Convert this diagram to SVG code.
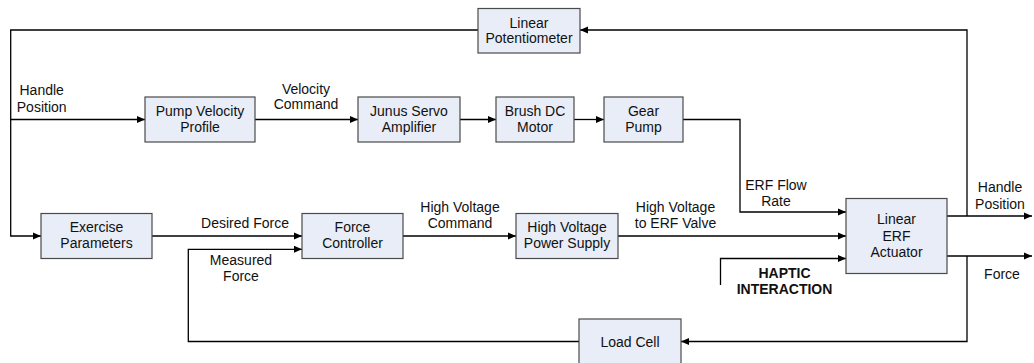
<svg xmlns="http://www.w3.org/2000/svg" width="1034" height="363" viewBox="0 0 1034 363">
<style>
.box{fill:#e8edf7;stroke:#4a4a4a;stroke-width:1.2}
.t{font-family:"Liberation Sans",Arial,sans-serif;font-size:14px;fill:#111;text-anchor:middle}
.b{font-weight:bold}
.c{fill:none;stroke:#000;stroke-width:1.3}
</style>
<defs>
<marker id="ah" viewBox="0 0 8 8" refX="8" refY="4" markerWidth="8" markerHeight="8" markerUnits="userSpaceOnUse" orient="auto">
<path d="M0,0.5 L8,4 L0,7.5 z" fill="#000"/>
</marker>
</defs>
<rect width="1034" height="363" fill="#fff"/>
<g id="connectors">
<path class="c" d="M967,216 V30 H580" marker-end="url(#ah)"/>
<path class="c" d="M478,30 H10.7 V236 H41" marker-end="url(#ah)"/>
<path class="c" d="M10.7,119.5 H145" marker-end="url(#ah)"/>
<path class="c" d="M255,119.5 H358" marker-end="url(#ah)"/>
<path class="c" d="M460,119.5 H496" marker-end="url(#ah)"/>
<path class="c" d="M574,119.5 H604" marker-end="url(#ah)"/>
<path class="c" d="M683,119.5 H740 V212 H846" marker-end="url(#ah)"/>
<path class="c" d="M152,236 H302" marker-end="url(#ah)"/>
<path class="c" d="M403,236 H516" marker-end="url(#ah)"/>
<path class="c" d="M618,236 H846" marker-end="url(#ah)"/>
<path class="c" d="M720.5,285 V258.5 H846" marker-end="url(#ah)"/>
<path class="c" d="M947,216 H1032" marker-end="url(#ah)"/>
<path class="c" d="M947,256 H1032" marker-end="url(#ah)"/>
<path class="c" d="M967,256 V341.5 H681" marker-end="url(#ah)"/>
<path class="c" d="M579,341.5 H188.3 V249.3 H302" marker-end="url(#ah)"/>
</g>
<g id="linear-potentiometer"><rect class="box" x="478" y="8.5" width="102" height="44.5"/><text class="t" x="529" y="27.5">Linear</text><text class="t" x="529" y="43">Potentiometer</text></g>
<g id="pump-velocity-profile"><rect class="box" x="145" y="97" width="110" height="45"/><text class="t" x="200" y="115.5">Pump Velocity</text><text class="t" x="200" y="131.5">Profile</text></g>
<g id="junus-servo-amplifier"><rect class="box" x="358" y="97" width="102" height="45"/><text class="t" x="409" y="115.5">Junus Servo</text><text class="t" x="409" y="131.5">Amplifier</text></g>
<g id="brush-dc-motor"><rect class="box" x="496" y="97" width="78" height="45"/><text class="t" x="535" y="115.5">Brush DC</text><text class="t" x="535" y="131.5">Motor</text></g>
<g id="gear-pump"><rect class="box" x="604" y="97" width="79" height="45"/><text class="t" x="643.5" y="115.5">Gear</text><text class="t" x="643.5" y="131.5">Pump</text></g>
<g id="exercise-parameters"><rect class="box" x="41" y="213.5" width="111" height="45"/><text class="t" x="96.5" y="231.5">Exercise</text><text class="t" x="96.5" y="248">Parameters</text></g>
<g id="force-controller"><rect class="box" x="302" y="213.5" width="101" height="45"/><text class="t" x="352.5" y="231.5">Force</text><text class="t" x="352.5" y="248">Controller</text></g>
<g id="high-voltage-power-supply"><rect class="box" x="516" y="213.5" width="102" height="45"/><text class="t" x="567" y="231.5">High Voltage</text><text class="t" x="567" y="248">Power Supply</text></g>
<g id="linear-erf-actuator"><rect class="box" x="846" y="198.5" width="101" height="75"/><text class="t" x="896.5" y="223.5">Linear</text><text class="t" x="896.5" y="240.5">ERF</text><text class="t" x="896.5" y="257">Actuator</text></g>
<g id="load-cell"><rect class="box" x="579" y="319" width="102" height="46"/><text class="t" x="630" y="346.5">Load Cell</text></g>
<g id="labels">
<text class="t" x="41.7" y="94.5">Handle</text><text class="t" x="41.7" y="111.5">Position</text>
<text class="t" x="306" y="93.5">Velocity</text><text class="t" x="306" y="109">Command</text>
<text class="t" x="245" y="227.5">Desired Force</text>
<text class="t" x="241" y="265">Measured</text><text class="t" x="241" y="281">Force</text>
<text class="t" x="460" y="211.5">High Voltage</text><text class="t" x="460" y="227.5">Command</text>
<text class="t" x="675.5" y="211.5">High Voltage</text><text class="t" x="675.5" y="228">to ERF Valve</text>
<text class="t" x="776" y="190">ERF Flow</text><text class="t" x="776" y="206">Rate</text>
<text class="t b" x="784.5" y="277.5">HAPTIC</text><text class="t b" x="784.5" y="293.5">INTERACTION</text>
<text class="t" x="1000" y="191.5">Handle</text><text class="t" x="1000" y="209">Position</text>
<text class="t" x="1002" y="278.5">Force</text>
</g>
</svg>
